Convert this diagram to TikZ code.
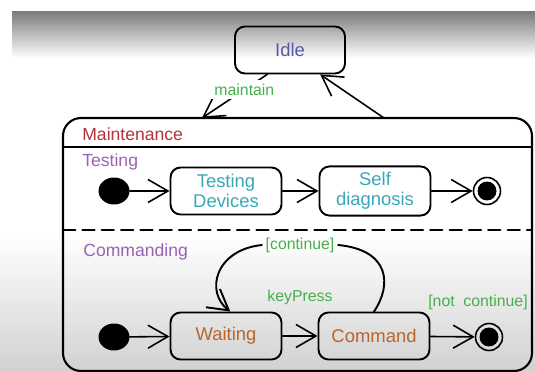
\documentclass[tikz,border=0pt]{standalone}
\usepackage{fontspec}
\setmainfont{Liberation Sans}
\usetikzlibrary{arrows.meta,shapes.geometric}
\definecolor{idleblue}{HTML}{5A58A8}
\definecolor{guardgreen}{HTML}{46B04E}
\definecolor{maintred}{HTML}{B4303C}
\definecolor{regionpurple}{HTML}{9A62B4}
\definecolor{testteal}{HTML}{38A8B4}
\definecolor{cmdbrown}{HTML}{B8652C}

\begin{document}
\begin{tikzpicture}[x=0.02cm, y=-0.02cm, line cap=round, line join=round, >={Straight Barb[length=0.4cm,width=0.46cm]}]
\tikzset{state/.style={draw, line width=1.1pt, rounded corners=0.2cm, minimum width=2.22cm, minimum height=0.94cm, align=center, font=\fontsize{10.5}{11.5}\selectfont},
  trans/.style={->, line width=0.9pt},
  guard/.style={text=guardgreen, font=\fontsize{9}{10}\selectfont, inner sep=2pt},
  region/.style={anchor=west, text=regionpurple, font=\fontsize{10}{12}\selectfont, inner sep=0pt},
  initdot/.style={ellipse, fill=black, minimum width=0.62cm, minimum height=0.54cm, inner sep=0pt},
  finaldot/.style={circle, draw, line width=0.9pt, minimum size=0.54cm, inner sep=0pt}}

\useasboundingbox (0,0) rectangle (535,372);

% screen shading
\shade[top color=black!52, bottom color=white] (12,11) rectangle (535,58);
\shade[top color=white, bottom color=black!18] (0,235) rectangle (535,372);

% top state
\node[state, minimum width=2.2cm, text=idleblue] (idle) at (290,50) {Idle};

% composite state
\draw[line width=1.2pt, rounded corners=0.36cm] (63,118) rectangle (532,371);
\draw[line width=1.1pt] (63,147) -- (532,147);
\draw[line width=1.1pt, dash pattern=on 7pt off 4pt] (63,230) -- (532,230);
\node[region, text=maintred] at (82,134) {Maintenance};
\node[region] at (82,162) {Testing};
\node[region] at (83,252) {Commanding};
\coordinate (mIn)  at (202,118);
\coordinate (mOut) at (384,118);

% testing region
\node[initdot] (init1) at (114,191) {};
\node[state, text=testteal] (tdev) at (226,191) {Testing\\Devices};
\node[state, text=testteal] (sdiag) at (375,191) {Self\\diagnosis};
\node[finaldot] (fin1) at (487,191) {};
\fill (fin1) circle (0.19cm);

% commanding region
\node[initdot] (init2) at (114,337) {};
\node[state, text=cmdbrown] (wait) at (226,336) {Waiting};
\node[state, text=cmdbrown] (cmd) at (374,336) {Command};
\node[finaldot] (fin2) at (489,337) {};
\fill (fin2) circle (0.19cm);
\node[guard] (cont) at (300,245) {[continue]};
\node[guard] at (300,297) {keyPress};
\node[guard] at (478,302) {[not\ \ continue]};

% transitions
\draw[trans] (idle.227) -- node[guard, fill=white, pos=0.35] {maintain} (mIn);
\draw[trans] (mOut) -- (idle.-39);
\draw[trans] (init1) -- (tdev);
\draw[trans] (tdev) -- (sdiag);
\draw[trans] (sdiag) -- (fin1);
\draw[trans] (init2) -- (wait);
\draw[trans] (wait) -- (cmd);
\draw[trans] (cmd) -- (fin2);
\draw[line width=1.1pt] (cmd.north) .. controls (392,285) and (390,250) .. (cont.east);
\draw[trans, line width=1.1pt] (cont.west) .. controls (215,250) and (205,292) .. (wait.80);
\end{tikzpicture}
\end{document}
